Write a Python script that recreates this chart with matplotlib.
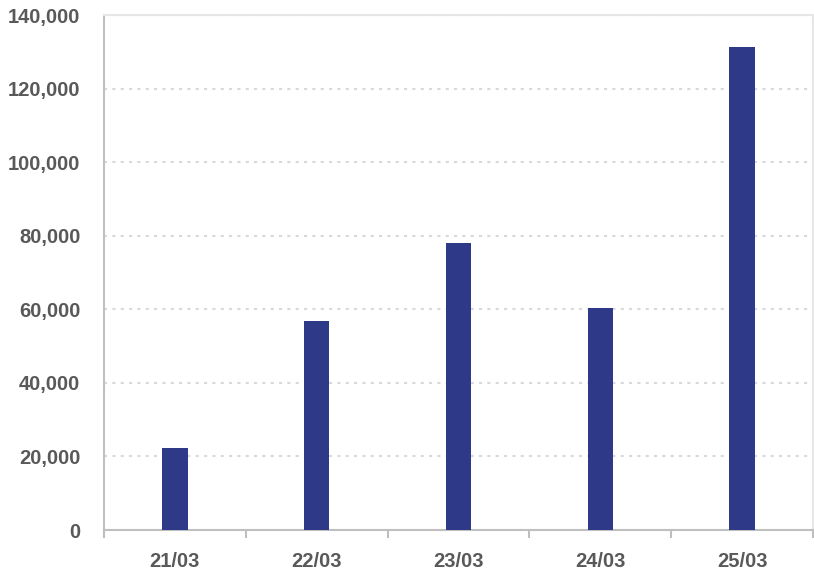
import numpy as np
import matplotlib.pyplot as plt
from matplotlib.ticker import FuncFormatter, MultipleLocator

# data
dates = ['21/03', '22/03', '23/03', '24/03', '25/03']
values = [22400, 56900, 78100, 60400, 131400]

BAR_COLOR = '#2E3A87'
TEXT_COLOR = '#595959'

plt.rcParams['font.family'] = ['Liberation Sans', 'DejaVu Sans']

fig = plt.figure(figsize=(8.14, 5.79), dpi=100)
ax = fig.add_axes([104 / 814, 1 - 530 / 579, 709 / 814, 515 / 579])

x = np.arange(len(dates))
ax.bar(x, values, width=0.18, color=BAR_COLOR, zorder=3)

ax.set_xlim(-0.5, len(dates) - 0.5)
ax.set_ylim(0, 140000)
ax.yaxis.set_major_locator(MultipleLocator(20000))
ax.yaxis.set_major_formatter(FuncFormatter(lambda v, p: f'{int(v):,}'))

ax.set_xticks(x)
ax.set_xticklabels(dates)
ax.set_xticks(np.arange(len(dates) + 1) - 0.5, minor=True)
ax.tick_params(axis='x', which='major', length=0, pad=16)
ax.tick_params(axis='x', which='minor', length=6, width=1.5, color='#BFBFBF')
ax.tick_params(axis='y', length=0, pad=17)

for lab in ax.get_xticklabels() + ax.get_yticklabels():
    lab.set_fontsize(14.5)
    lab.set_fontweight('bold')
    lab.set_color(TEXT_COLOR)

ax.grid(axis='y', linestyle=(0, (1.5, 2.5)), color='#D9D9D9', linewidth=1.5, zorder=0)

for side in ['top', 'right']:
    ax.spines[side].set_color('#E6E6E6')
    ax.spines[side].set_linewidth(1.5)
for side in ['left', 'bottom']:
    ax.spines[side].set_color('#BFBFBF')
    ax.spines[side].set_linewidth(1.5)

plt.savefig('out.png', dpi=100)
